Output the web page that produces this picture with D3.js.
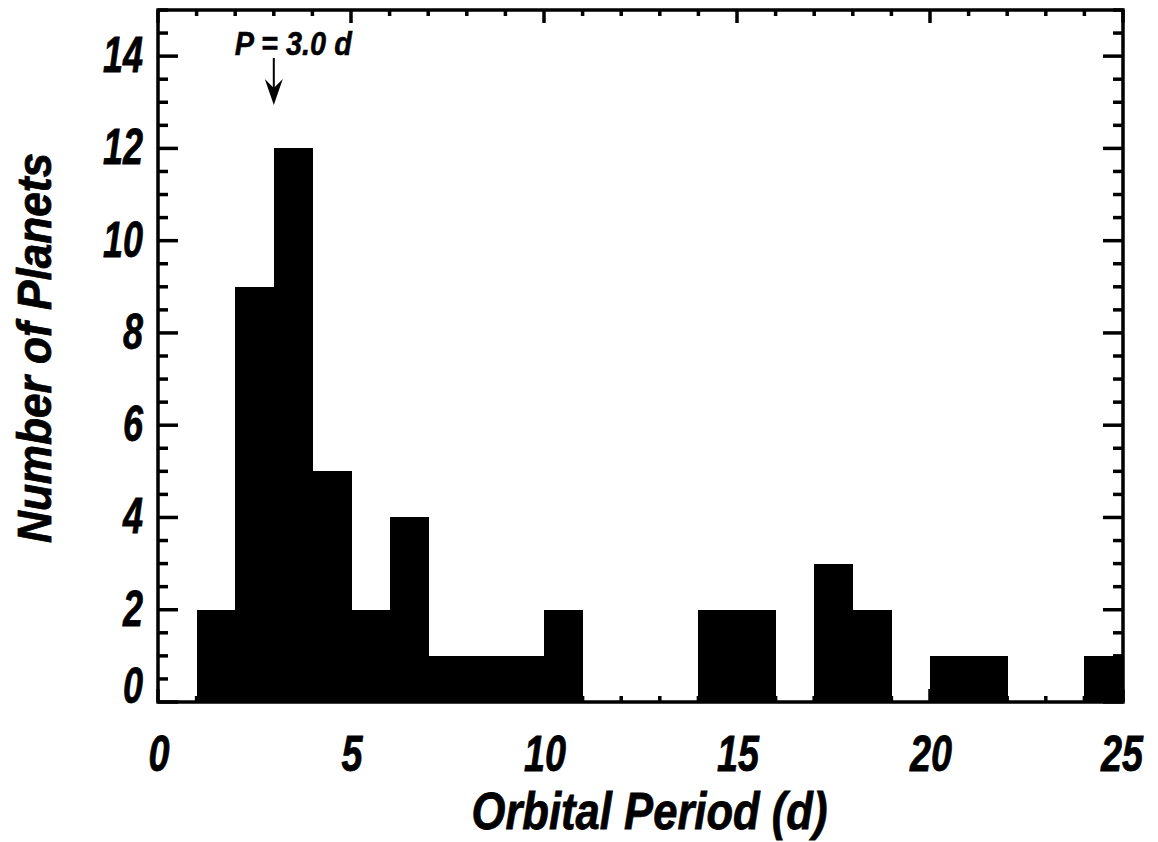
<!DOCTYPE html>
<html>
<head>
<meta charset="utf-8">
<script src="https://cdn.jsdelivr.net/npm/d3@7"></script>
<style>
  body { margin: 0; background: #fff; }
  text { font-family: "Liberation Sans", Arial, sans-serif; font-weight: bold; font-style: italic; fill: #000; stroke: #000; stroke-width: 0.8; }
</style>
</head>
<body>
<script>
// histogram bins (left edge, days) and counts
const binLeft = [0,1,2,3,4,5,6,7,8,9,10,11,12,13,14,15,16,17,18,19,20,21,22,23,24]
const counts  = [0,2,9,12,5,2,4,1,1,1,2,0,0,0,2,2,0,3,2,0,1,1,0,0,1]
const binWidth = 1

const xTicks = [0,5,10,15,20,25]
const yTicks = [0,2,4,6,8,10,12,14]
const markPeriod = 3.0
const markLabel = "P = 3.0 d"

const width = 1158
const height = 842
const margin = {top: 10, right: 35, bottom: 140, left: 158}

const svg = d3.select("body").append("svg")
  .attr("width", width)
  .attr("height", height)

const x = d3.scaleLinear().domain([0, 25]).range([margin.left, width - margin.right])
const y = d3.scaleLinear().domain([0, 15]).range([height - margin.bottom, margin.top])

// bars
svg.append("g")
  .attr("shape-rendering", "crispEdges")
  .selectAll("rect")
  .data(binLeft.map((b, i) => ({x0: b, n: counts[i]})).filter(d => d.n > 0))
  .enter().append("rect")
  .attr("x", d => x(d.x0))
  .attr("y", d => y(d.n))
  .attr("width", d => x(d.x0 + binWidth) - x(d.x0) + 0.5)
  .attr("height", d => y(0) - y(d.n))
  .attr("fill", "#000")

// ticks (IDL style, inward, on all four sides)
const ticks = svg.append("g").attr("stroke", "#000").attr("stroke-width", 3.5)
const yMinor = d3.range(0, 15.01, 0.5)
yMinor.forEach(function(v) {
  const major = v % 2 === 0
  const len = major ? 20 : 10
  ticks.append("line").attr("x1", x(0)).attr("x2", x(0) + len).attr("y1", y(v)).attr("y2", y(v))
  ticks.append("line").attr("x1", x(25)).attr("x2", x(25) - len).attr("y1", y(v)).attr("y2", y(v))
})
const xMinor = d3.range(0, 25.01, 1)
xMinor.forEach(function(v) {
  const len = v % 5 === 0 ? 13 : 6
  ticks.append("line").attr("x1", x(v)).attr("x2", x(v)).attr("y1", y(15)).attr("y2", y(15) + len)
  ticks.append("line").attr("x1", x(v)).attr("x2", x(v)).attr("y1", y(0)).attr("y2", y(0) - len)
})

// frame
svg.append("rect")
  .attr("x", x(0)).attr("y", y(15))
  .attr("width", x(25) - x(0)).attr("height", y(0) - y(15))
  .attr("fill", "none").attr("stroke", "#000").attr("stroke-width", 3.5)

// tick labels
svg.append("g").selectAll("text")
  .data(xTicks)
  .enter().append("text")
  .attr("x", d => x(d) + (d === 25 ? -1 : 1))
  .attr("y", y(0) + 69)
  .attr("text-anchor", "middle")
  .attr("font-size", 50)
  .attr("textLength", d => String(d).length * 21)
  .attr("lengthAdjust", "spacingAndGlyphs")
  .text(d => d)

svg.append("g").selectAll("text")
  .data(yTicks)
  .enter().append("text")
  .attr("x", 143)
  .attr("y", d => d === 0 ? y(d) + 1 : y(d) + 16)
  .attr("text-anchor", "end")
  .attr("font-size", 50)
  .attr("textLength", d => String(d).length * 20)
  .attr("lengthAdjust", "spacingAndGlyphs")
  .text(d => d)

// axis titles
svg.append("text")
  .attr("x", (x(0) + x(25)) / 2 + 9)
  .attr("y", 829)
  .attr("text-anchor", "middle")
  .attr("font-size", 52)
  .attr("textLength", 356)
  .attr("lengthAdjust", "spacingAndGlyphs")
  .text("Orbital Period (d)")

svg.append("text")
  .attr("transform", "translate(51," + 348 + ") rotate(-90)")
  .attr("text-anchor", "middle")
  .attr("font-size", 48)
  .attr("textLength", 390)
  .attr("lengthAdjust", "spacingAndGlyphs")
  .text("Number of Planets")

// annotation arrow
svg.append("text")
  .attr("x", x(markPeriod) - 39)
  .attr("y", 55)
  .attr("font-size", 34)
  .attr("textLength", 117)
  .attr("lengthAdjust", "spacingAndGlyphs")
  .style("stroke-width", 0.5)
  .text(markLabel)

svg.append("line")
  .attr("x1", x(markPeriod)).attr("x2", x(markPeriod))
  .attr("y1", 58).attr("y2", 95)
  .attr("stroke", "#000").attr("stroke-width", 2)

svg.append("path")
  .attr("d", "M" + (x(markPeriod) - 9) + ",79 L" + x(markPeriod) + ",105 L" + (x(markPeriod) + 9) + ",79 L" + x(markPeriod) + ",88 Z")
  .attr("fill", "#000")
</script>
</body>
</html>
